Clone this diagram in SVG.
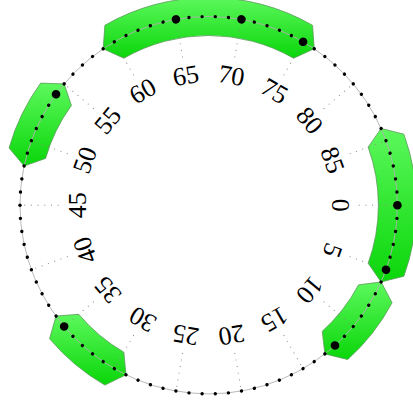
<svg xmlns="http://www.w3.org/2000/svg" xmlns:xlink="http://www.w3.org/1999/xlink" width="413" height="405" viewBox="0 0 413 405">
<style>
.band{fill:url(#g);stroke:#5a9a5a;stroke-width:0.8;stroke-linejoin:round}
.tick{stroke:#8a8a8a;stroke-width:1;stroke-dasharray:1 5.7;fill:none}
.ring{stroke:#b0b0b0;stroke-width:0.9;fill:none}
.lab{font-family:"Liberation Serif","DejaVu Serif",serif;font-size:26px;text-anchor:middle;fill:#000}
</style>
<defs>
<linearGradient id="g" x1="0" y1="0" x2="0" y2="1">
<stop offset="0" stop-color="#5cf85c"/>
<stop offset="1" stop-color="#0ad60a"/>
</linearGradient>
<circle id="d" cx="397.4" cy="205.2" r="1.7" fill="#000"/>
<circle id="D" cx="397.4" cy="205.2" r="4.3" fill="#000"/>
<line id="t" class="tick" x1="358.7" y1="205.2" x2="397.4" y2="205.2"/>
</defs>
<g id="bands">
<path id="band-59-76" class="band" d="M103.18,48.76 L104.85,25.33 A207.7,207.7 0 0 1 312.55,25.33 L314.22,48.76 L293.55,58.23 A169.7,169.7 0 0 0 123.85,58.23 Z"/>
<path id="band-48-55" class="band" d="M24.12,165.97 L9.05,147.95 A207.7,207.7 0 0 1 40.67,83.12 L64.15,83.91 L71.41,105.45 A169.7,169.7 0 0 0 45.57,158.42 Z"/>
<path id="band-84-6" class="band" d="M381.09,128.45 L403.87,134.16 A207.7,207.7 0 0 1 403.87,276.24 L381.09,281.95 L368.17,263.24 A169.7,169.7 0 0 0 368.17,147.16 Z"/>
<path id="band-6-13" class="band" d="M381.09,281.95 L392.09,302.71 A207.7,207.7 0 0 1 347.68,359.55 L324.88,353.90 L322.25,331.31 A169.7,169.7 0 0 0 358.54,284.87 Z"/>
<path id="band-29-36" class="band" d="M125.98,374.80 L104.85,385.07 A207.7,207.7 0 0 1 49.59,338.71 L56.04,316.12 L78.70,314.28 A169.7,169.7 0 0 0 123.85,352.17 Z"/>
</g>
<g id="ticks">
<use xlink:href="#t" href="#t"/>
<use href="#t" transform="rotate(20 208.7 205.2)"/>
<use href="#t" transform="rotate(40 208.7 205.2)"/>
<use href="#t" transform="rotate(60 208.7 205.2)"/>
<use href="#t" transform="rotate(80 208.7 205.2)"/>
<use href="#t" transform="rotate(100 208.7 205.2)"/>
<use href="#t" transform="rotate(120 208.7 205.2)"/>
<use href="#t" transform="rotate(140 208.7 205.2)"/>
<use href="#t" transform="rotate(160 208.7 205.2)"/>
<use href="#t" transform="rotate(180 208.7 205.2)"/>
<use href="#t" transform="rotate(200 208.7 205.2)"/>
<use href="#t" transform="rotate(220 208.7 205.2)"/>
<use href="#t" transform="rotate(240 208.7 205.2)"/>
<use href="#t" transform="rotate(260 208.7 205.2)"/>
<use href="#t" transform="rotate(280 208.7 205.2)"/>
<use href="#t" transform="rotate(300 208.7 205.2)"/>
<use href="#t" transform="rotate(320 208.7 205.2)"/>
<use href="#t" transform="rotate(340 208.7 205.2)"/>
</g>
<circle id="ring" class="ring" cx="208.7" cy="205.2" r="188.7"/>
<g id="dots">
<use href="#d" transform="rotate(0 208.7 205.2)"/>
<use href="#d" transform="rotate(4 208.7 205.2)"/>
<use href="#d" transform="rotate(8 208.7 205.2)"/>
<use href="#d" transform="rotate(12 208.7 205.2)"/>
<use href="#d" transform="rotate(16 208.7 205.2)"/>
<use href="#d" transform="rotate(20 208.7 205.2)"/>
<use href="#d" transform="rotate(24 208.7 205.2)"/>
<use href="#d" transform="rotate(28 208.7 205.2)"/>
<use href="#d" transform="rotate(32 208.7 205.2)"/>
<use href="#d" transform="rotate(36 208.7 205.2)"/>
<use href="#d" transform="rotate(40 208.7 205.2)"/>
<use href="#d" transform="rotate(44 208.7 205.2)"/>
<use href="#d" transform="rotate(48 208.7 205.2)"/>
<use href="#d" transform="rotate(52 208.7 205.2)"/>
<use href="#d" transform="rotate(56 208.7 205.2)"/>
<use href="#d" transform="rotate(60 208.7 205.2)"/>
<use href="#d" transform="rotate(64 208.7 205.2)"/>
<use href="#d" transform="rotate(68 208.7 205.2)"/>
<use href="#d" transform="rotate(72 208.7 205.2)"/>
<use href="#d" transform="rotate(76 208.7 205.2)"/>
<use href="#d" transform="rotate(80 208.7 205.2)"/>
<use href="#d" transform="rotate(84 208.7 205.2)"/>
<use href="#d" transform="rotate(88 208.7 205.2)"/>
<use href="#d" transform="rotate(92 208.7 205.2)"/>
<use href="#d" transform="rotate(96 208.7 205.2)"/>
<use href="#d" transform="rotate(100 208.7 205.2)"/>
<use href="#d" transform="rotate(104 208.7 205.2)"/>
<use href="#d" transform="rotate(108 208.7 205.2)"/>
<use href="#d" transform="rotate(112 208.7 205.2)"/>
<use href="#d" transform="rotate(116 208.7 205.2)"/>
<use href="#d" transform="rotate(120 208.7 205.2)"/>
<use href="#d" transform="rotate(124 208.7 205.2)"/>
<use href="#d" transform="rotate(128 208.7 205.2)"/>
<use href="#d" transform="rotate(132 208.7 205.2)"/>
<use href="#d" transform="rotate(136 208.7 205.2)"/>
<use href="#d" transform="rotate(140 208.7 205.2)"/>
<use href="#d" transform="rotate(144 208.7 205.2)"/>
<use href="#d" transform="rotate(148 208.7 205.2)"/>
<use href="#d" transform="rotate(152 208.7 205.2)"/>
<use href="#d" transform="rotate(156 208.7 205.2)"/>
<use href="#d" transform="rotate(160 208.7 205.2)"/>
<use href="#d" transform="rotate(164 208.7 205.2)"/>
<use href="#d" transform="rotate(168 208.7 205.2)"/>
<use href="#d" transform="rotate(172 208.7 205.2)"/>
<use href="#d" transform="rotate(176 208.7 205.2)"/>
<use href="#d" transform="rotate(180 208.7 205.2)"/>
<use href="#d" transform="rotate(184 208.7 205.2)"/>
<use href="#d" transform="rotate(188 208.7 205.2)"/>
<use href="#d" transform="rotate(192 208.7 205.2)"/>
<use href="#d" transform="rotate(196 208.7 205.2)"/>
<use href="#d" transform="rotate(200 208.7 205.2)"/>
<use href="#d" transform="rotate(204 208.7 205.2)"/>
<use href="#d" transform="rotate(208 208.7 205.2)"/>
<use href="#d" transform="rotate(212 208.7 205.2)"/>
<use href="#d" transform="rotate(216 208.7 205.2)"/>
<use href="#d" transform="rotate(220 208.7 205.2)"/>
<use href="#d" transform="rotate(224 208.7 205.2)"/>
<use href="#d" transform="rotate(228 208.7 205.2)"/>
<use href="#d" transform="rotate(232 208.7 205.2)"/>
<use href="#d" transform="rotate(236 208.7 205.2)"/>
<use href="#d" transform="rotate(240 208.7 205.2)"/>
<use href="#d" transform="rotate(244 208.7 205.2)"/>
<use href="#d" transform="rotate(248 208.7 205.2)"/>
<use href="#d" transform="rotate(252 208.7 205.2)"/>
<use href="#d" transform="rotate(256 208.7 205.2)"/>
<use href="#d" transform="rotate(260 208.7 205.2)"/>
<use href="#d" transform="rotate(264 208.7 205.2)"/>
<use href="#d" transform="rotate(268 208.7 205.2)"/>
<use href="#d" transform="rotate(272 208.7 205.2)"/>
<use href="#d" transform="rotate(276 208.7 205.2)"/>
<use href="#d" transform="rotate(280 208.7 205.2)"/>
<use href="#d" transform="rotate(284 208.7 205.2)"/>
<use href="#d" transform="rotate(288 208.7 205.2)"/>
<use href="#d" transform="rotate(292 208.7 205.2)"/>
<use href="#d" transform="rotate(296 208.7 205.2)"/>
<use href="#d" transform="rotate(300 208.7 205.2)"/>
<use href="#d" transform="rotate(304 208.7 205.2)"/>
<use href="#d" transform="rotate(308 208.7 205.2)"/>
<use href="#d" transform="rotate(312 208.7 205.2)"/>
<use href="#d" transform="rotate(316 208.7 205.2)"/>
<use href="#d" transform="rotate(320 208.7 205.2)"/>
<use href="#d" transform="rotate(324 208.7 205.2)"/>
<use href="#d" transform="rotate(328 208.7 205.2)"/>
<use href="#d" transform="rotate(332 208.7 205.2)"/>
<use href="#d" transform="rotate(336 208.7 205.2)"/>
<use href="#d" transform="rotate(340 208.7 205.2)"/>
<use href="#d" transform="rotate(344 208.7 205.2)"/>
<use href="#d" transform="rotate(348 208.7 205.2)"/>
<use href="#d" transform="rotate(352 208.7 205.2)"/>
<use href="#d" transform="rotate(356 208.7 205.2)"/>
</g>
<g id="big-dots">
<use href="#D" transform="rotate(0 208.7 205.2)"/>
<use href="#D" transform="rotate(20 208.7 205.2)"/>
<use href="#D" transform="rotate(48 208.7 205.2)"/>
<use href="#D" transform="rotate(140 208.7 205.2)"/>
<use href="#D" transform="rotate(216 208.7 205.2)"/>
<use href="#D" transform="rotate(260 208.7 205.2)"/>
<use href="#D" transform="rotate(280 208.7 205.2)"/>
<use href="#D" transform="rotate(300 208.7 205.2)"/>
</g>
<g id="labels">
<text class="lab" transform="rotate(0 208.7 205.2) translate(340.7 205.2) rotate(90)" y="8.8">0</text>
<text class="lab" transform="rotate(20 208.7 205.2) translate(340.7 205.2) rotate(90)" y="8.8">5</text>
<text class="lab" transform="rotate(40 208.7 205.2) translate(340.7 205.2) rotate(90)" y="8.8">10</text>
<text class="lab" transform="rotate(60 208.7 205.2) translate(340.7 205.2) rotate(90)" y="8.8">15</text>
<text class="lab" transform="rotate(80 208.7 205.2) translate(340.7 205.2) rotate(90)" y="8.8">20</text>
<text class="lab" transform="rotate(100 208.7 205.2) translate(340.7 205.2) rotate(90)" y="8.8">25</text>
<text class="lab" transform="rotate(120 208.7 205.2) translate(340.7 205.2) rotate(90)" y="8.8">30</text>
<text class="lab" transform="rotate(140 208.7 205.2) translate(340.7 205.2) rotate(90)" y="8.8">35</text>
<text class="lab" transform="rotate(160 208.7 205.2) translate(340.7 205.2) rotate(90)" y="8.8">40</text>
<text class="lab" transform="rotate(180 208.7 205.2) translate(340.7 205.2) rotate(90)" y="8.8">45</text>
<text class="lab" transform="rotate(200 208.7 205.2) translate(340.7 205.2) rotate(90)" y="8.8">50</text>
<text class="lab" transform="rotate(220 208.7 205.2) translate(340.7 205.2) rotate(90)" y="8.8">55</text>
<text class="lab" transform="rotate(240 208.7 205.2) translate(340.7 205.2) rotate(90)" y="8.8">60</text>
<text class="lab" transform="rotate(260 208.7 205.2) translate(340.7 205.2) rotate(90)" y="8.8">65</text>
<text class="lab" transform="rotate(280 208.7 205.2) translate(340.7 205.2) rotate(90)" y="8.8">70</text>
<text class="lab" transform="rotate(300 208.7 205.2) translate(340.7 205.2) rotate(90)" y="8.8">75</text>
<text class="lab" transform="rotate(320 208.7 205.2) translate(340.7 205.2) rotate(90)" y="8.8">80</text>
<text class="lab" transform="rotate(340 208.7 205.2) translate(340.7 205.2) rotate(90)" y="8.8">85</text>
</g>
</svg>
